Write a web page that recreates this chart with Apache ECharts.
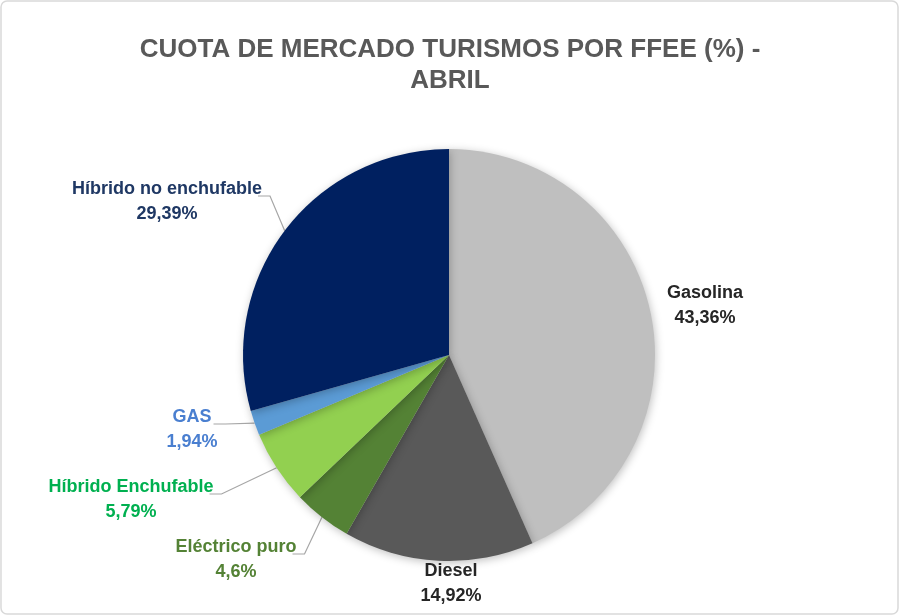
<!DOCTYPE html>
<html>
<head>
<meta charset="utf-8">
<script src="https://cdn.jsdelivr.net/npm/echarts@6/dist/echarts.min.js"></script>
<style>
  html, body { margin: 0; padding: 0; background: #fff; }
  #chart { width: 900px; height: 616px; }
</style>
</head>
<body>
<div id="chart"></div>
<script>
// Cuota de mercado turismos por FFEE - abril
const categories = ['Gasolina', 'Diesel', 'Eléctrico puro', 'Híbrido Enchufable', 'GAS', 'Híbrido no enchufable'];
const shares = [43.36, 14.92, 4.6, 5.79, 1.94, 29.39];
const sliceColors = ['#bfbfbf', '#595959', '#548235', '#92d050', '#5b9bd5', '#002060'];
const labelColors = ['#262626', '#262626', '#548235', '#00b050', '#4a7fd0', '#1f3864'];
const showLines = [false, false, true, true, true, true];

// where each label block sits (centre of the two-line text)
const labelSpots = [
    [705, 306], [451, 584], [236, 560], [131, 500], [192, 430], [167, 202]
];

const fmt = v => String(v).replace('.', ',') + '%';

const chart = echarts.init(document.getElementById('chart'));

chart.setOption({
    backgroundColor: '#fff',
    animation: false,
    title: {
        text: 'CUOTA DE MERCADO TURISMOS POR FFEE (%) -\nABRIL',
        left: 'center',
        top: 29,
        textStyle: {
            fontFamily: 'Liberation Sans',
            fontSize: 26,
            fontWeight: 'bold',
            color: '#595959',
            lineHeight: 31
        }
    },
    graphic: [{
        type: 'rect',
        shape: { x: 1, y: 1, width: 897, height: 613, r: 6 },
        style: { fill: 'none', stroke: '#d9d9d9', lineWidth: 1.5 },
        silent: true
    }],
    series: [{
        type: 'pie',
        center: [449, 355],
        radius: 206,
        startAngle: 90,
        clockwise: true,
        itemStyle: {
            borderWidth: 0,
            shadowBlur: 8,
            shadowColor: 'rgba(0,0,0,0.25)',
            shadowOffsetX: 1,
            shadowOffsetY: 2
        },
        label: {
            show: true,
            position: 'outside',
            fontFamily: 'Liberation Sans',
            fontSize: 18,
            fontWeight: 'bold',
            lineHeight: 25,
            align: 'center',
            formatter: p => p.name + '\n' + fmt(p.value)
        },
        labelLine: {
            show: true,
            length: 10,
            length2: 10,
            lineStyle: { color: '#a6a6a6', width: 1.2 }
        },
        labelLayout: function (params) {
            const i = params.dataIndex;
            const [cx, cy] = labelSpots[i];
            const r = params.labelRect;
            const out = {
                x: cx, y: cy,
                align: 'center',
                verticalAlign: 'middle'
            };
            if (showLines[i] && params.labelLinePoints) {
                const anchor = params.labelLinePoints[0];
                const right = cx + r.width / 2;
                const lineY = cy - 6;
                out.labelLinePoints = [anchor, [right + 8, lineY], [right - 4, lineY]];
            }
            return out;
        },
        data: categories.map((name, i) => ({
            name: name,
            value: shares[i],
            itemStyle: { color: sliceColors[i] },
            label: { color: labelColors[i] },
            labelLine: { show: showLines[i] }
        }))
    }]
});
</script>
</body>
</html>
